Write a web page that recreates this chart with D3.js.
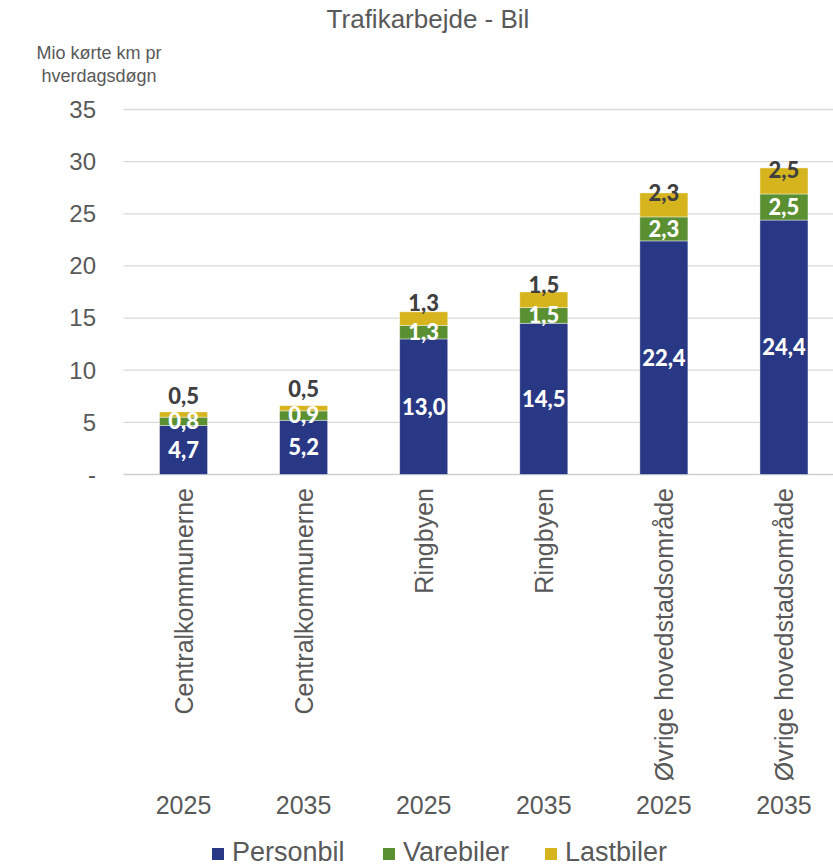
<!DOCTYPE html>
<html><head><meta charset="utf-8">
<script src="https://cdn.jsdelivr.net/npm/d3@7"></script>
<style>body{margin:0;background:#fff}svg{display:block}</style>
</head><body><svg id="c" width="833" height="865"></svg>
<script>
const categories = ["Centralkommunerne","Centralkommunerne","Ringbyen","Ringbyen","Øvrige hovedstadsområde","Øvrige hovedstadsområde"];
const years = ["2025","2035","2025","2035","2025","2035"];
const seriesNames = ["Personbil","Varebiler","Lastbiler"];
const personbil = [4.7,5.2,13.0,14.5,22.4,24.4];
const varebiler = [0.8,0.9,1.3,1.5,2.3,2.5];
const lastbiler = [0.5,0.5,1.3,1.5,2.3,2.5];
const yTicks = [0,5,10,15,20,25,30,35];
const colors = ["#283885","#5a8f32","#d6b41e"];

const svg = d3.select("#c");
const x = d3.scaleBand().domain(d3.range(6)).range([123.5,844]).paddingInner(0.6).paddingOuter(0.3);
const y = d3.scaleLinear().domain([0,35]).range([474.5,109.5]);
const font = "'Liberation Sans', Arial, sans-serif";
const fmt = v => d3.format(".1f")(v).replace(".",",");

// gridlines
svg.append("g").selectAll("line").data(yTicks).join("line")
  .attr("x1",123.5).attr("x2",844).attr("y1",d=>y(d)).attr("y2",d=>y(d))
  .attr("stroke",d=>d===0?"#d0d0d0":"#d9d9d9").attr("stroke-width",1.3);

// y tick labels
svg.append("g").selectAll("text").data(yTicks).join("text")
  .attr("x",96).attr("y",d=>y(d)).attr("dy","0.35em").attr("text-anchor","end")
  .attr("font-family",font).attr("font-size",24).attr("fill","#595959")
  .text(d=>d===0?"-":d);

// stack
const rows = d3.range(6).map(i=>({i, Personbil:personbil[i], Varebiler:varebiler[i], Lastbiler:lastbiler[i]}));
const stack = d3.stack().keys(seriesNames)(rows);
const g = svg.append("g");
stack.forEach((layer,k)=>{
  g.append("g").selectAll("rect").data(layer).join("rect")
    .attr("x",d=>x(d.data.i)).attr("width",x.bandwidth())
    .attr("y",d=>y(d[1])).attr("height",d=>y(d[0])-y(d[1]))
    .attr("fill",colors[k]).attr("stroke","#ffffff").attr("stroke-opacity",0.5).attr("stroke-width",0.8);
});
// labels
const lf = "Lato, 'Liberation Sans', sans-serif";
stack.forEach((layer,k)=>{
  g.append("g").selectAll("text").data(layer).join("text")
    .attr("x",d=>x(d.data.i)+x.bandwidth()/2)
    .attr("y",d=>{
      const top=y(d[1]), h=y(d[0])-y(d[1]);
      if(k<2) return top+h/2;
      return top+0.9*h-21;
    })
    .attr("dy","0.36em").attr("text-anchor","middle")
    .attr("font-family",lf).attr("font-weight","900").attr("font-size",22)
    .attr("fill",k<2?"#ffffff":"#404040")
    .text(d=>fmt(d[1]-d[0]));
});

// category labels rotated
svg.append("g").selectAll("text").data(categories).join("text")
  .attr("transform",(d,i)=>`translate(${x(i)+x.bandwidth()/2+9},488) rotate(-90)`)
  .attr("text-anchor","end").attr("font-family",font).attr("font-size",25).attr("fill","#595959")
  .text(d=>d);
// years
svg.append("g").selectAll("text").data(years).join("text")
  .attr("x",(d,i)=>x(i)+x.bandwidth()/2).attr("y",814).attr("text-anchor","middle")
  .attr("font-family",font).attr("font-size",25).attr("fill","#595959").text(d=>d);

// title
svg.append("text").attr("x",428).attr("y",28).attr("text-anchor","middle")
  .attr("font-family",font).attr("font-size",26).attr("fill","#595959").text("Trafikarbejde - Bil");
// y axis title
svg.append("text").attr("x",99).attr("y",59).attr("text-anchor","middle")
  .attr("font-family",font).attr("font-size",18).attr("fill","#595959").text("Mio kørte km pr");
svg.append("text").attr("x",99).attr("y",82).attr("text-anchor","middle")
  .attr("font-family",font).attr("font-size",18).attr("fill","#595959").text("hverdagsdøgn");

// legend
const legX = [212,383,545];
const lg = svg.append("g");
seriesNames.forEach((s,k)=>{
  lg.append("rect").attr("x",legX[k]).attr("y",848).attr("width",12).attr("height",12).attr("fill",colors[k]);
  lg.append("text").attr("x",legX[k]+20).attr("y",861).attr("font-family",font).attr("font-size",27).attr("fill","#595959").text(s);
});
</script></body></html>
